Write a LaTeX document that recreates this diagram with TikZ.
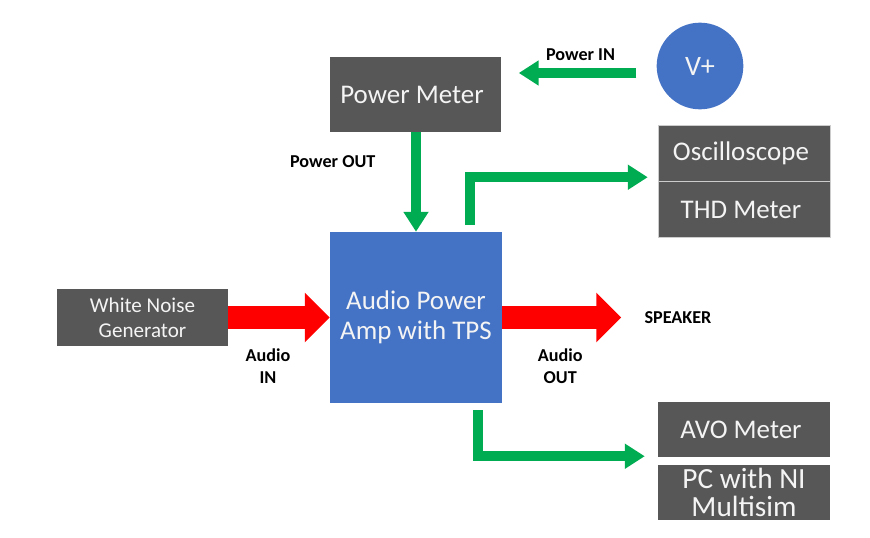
\documentclass[tikz,border=0pt]{standalone}
\usepackage{fontspec}
\setmainfont{Carlito}
\usepackage{xcolor}
\usepackage{tikz}
\usetikzlibrary{
  arrows.meta,
  positioning
}
\definecolor{BoxGray}{HTML}{575757}
\definecolor{AmpBlue}{HTML}{4472C4}
\definecolor{FlowGreen}{HTML}{00AC52}
\definecolor{SignalRed}{HTML}{FF0000}
\definecolor{BoxText}{HTML}{F4F4F4}
\tikzset{
  unit/.style={
    fill=BoxGray,
    text=BoxText,
    align=center,
    inner sep=0pt,
    minimum width=5.16cm,
    minimum height=1.68cm,
    font=\fontsize{23}{26}\selectfont
  },
  instrument/.style={
    unit,
    draw=gray!40,
    line width=0.4pt
  },
  amplifier/.style={
    unit,
    fill=AmpBlue,
    minimum height=5.13cm,
    font=\fontsize{23}{25.5}\selectfont
  },
  supply/.style={
    circle,
    fill=AmpBlue,
    text=BoxText,
    inner sep=0pt,
    minimum size=2.6cm,
    font=\fontsize{24}{28}\selectfont
  },
  tag/.style={
    align=center,
    inner sep=0pt,
    font=\bfseries\fontsize{15.5}{19}\selectfont
  },
  power/.style={
    draw=FlowGreen,
    line width=0.29cm,
    -{Triangle[length=0.6cm,width=0.72cm]}
  },
  signal/.style={
    draw=SignalRed,
    line width=0.69cm,
    -{Triangle[length=0.75cm,width=1.44cm]}
  }
}
\begin{document}
\begin{tikzpicture}[x=0.03cm,y=-0.03cm]

  \useasboundingbox (0,0) rectangle (870,538);

  \node[
    unit,
    minimum width=5.13cm,
    minimum height=2.25cm
  ] at (415,94.5) (pmeter) {
    Power Meter
  };

  \node[supply] at (700,66) (vplus) {
    V+
  };

  \node[amplifier] at (416,317.5) (amp) {
    Audio Power\\Amp with TPS
  };

  \node[
    unit,
    minimum width=5.13cm,
    minimum height=1.71cm,
    font=\fontsize{18}{21}\selectfont
  ] at (142.5,317.5) (noise) {
    White Noise\\Generator
  };

  \node[instrument] at (744,153) (osc) {
    Oscilloscope
  };

  \node[
    instrument,
    below=0pt of osc
  ] (thd) {
    THD Meter
  };

  \node[
    unit,
    minimum height=1.65cm
  ] at (744,429.5) (avo) {
    AVO Meter
  };

  \node[
    unit,
    minimum height=1.65cm,
    font=\fontsize{25}{24}\selectfont
  ] at (744,492.5) (pc) {
    PC with NI\\Multisim
  };

  \node[tag] at (680,317.5) (speaker) {
    SPEAKER
  };

  \draw[
    power,
    shorten <=0.6cm,
    shorten >=0.54cm
  ]
  ([yshift=-0.21cm]vplus.west) --
  node[
    tag,
    above=0.22cm,
    xshift=0.12cm
  ] {
    Power IN
  }
  ([yshift=-0.21cm]vplus.west -| pmeter.east);

  \draw[power]
  (pmeter.south -| amp.north) --
  node[
    tag,
    pos=0.3,
    left=0.95cm
  ] {
    Power OUT
  }
  (amp.north);

  \draw[power]
  ([xshift=1.62cm,yshift=0.2cm]amp.north) |-
  ([xshift=-0.3cm,yshift=0.12cm]osc.south west);

  \draw[power]
  ([xshift=1.86cm,yshift=-0.21cm]amp.south) |-
  ([xshift=-0.39cm,yshift=0.03cm]avo.south west);

  \draw[signal]
  (noise.east) --
  node[
    tag,
    below=0.58cm,
    xshift=-0.33cm
  ] {
    Audio\\IN
  }
  (amp.west);

  \draw[
    signal,
    shorten >=0.69cm
  ]
  (amp.east) --
  node[
    tag,
    below=0.58cm,
    xshift=-0.39cm
  ] {
    Audio\\OUT
  }
  (speaker.west);

\end{tikzpicture}
\end{document}
